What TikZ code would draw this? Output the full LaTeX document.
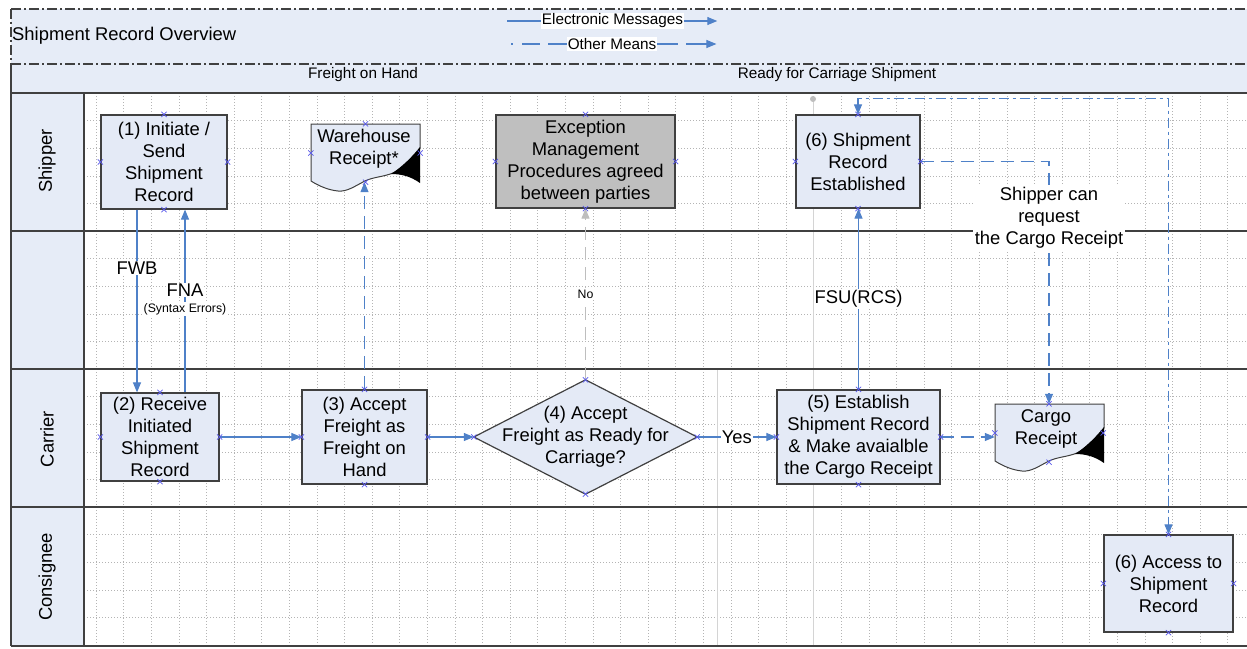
\documentclass[tikz,border=0pt]{standalone}
\usepackage{fontspec}
\setmainfont{Liberation Sans}
\usetikzlibrary{arrows.meta}
\definecolor{boxc}{RGB}{228,234,246}
\definecolor{hdrc}{RGB}{230,236,247}
\definecolor{bordc}{RGB}{64,64,64}
\definecolor{bluec}{RGB}{79,129,200}
\definecolor{cpc}{RGB}{90,90,235}
\definecolor{greybox}{RGB}{191,191,191}
\definecolor{gridc}{RGB}{180,180,180}
\definecolor{sepc}{RGB}{212,212,212}
\definecolor{noc}{RGB}{190,190,190}
\newcommand\bfnt{\fontsize{18.4}{22}\selectfont}
\newcommand\smfnt{\fontsize{15.3}{18}\selectfont}
\newcommand\tinyfnt{\fontsize{12.3}{14}\selectfont}
\newcommand\cpmk[1]{\draw[cpm] (#1) ++(-2.6,-2.6) -- ++(5.2,5.2) ++(-5.2,0) -- ++(5.2,-5.2);}
\newcommand\docshape[2]{%
  \begin{scope}[shift={(#1,#2)}]
    \filldraw[fill=boxc, draw=bordc, line width=1pt]
      (0,0) -- (109,0) -- (109,24)
      .. controls (100,35) and (92,44) .. (82,49)
      .. controls (72,53) and (62,53) .. (54,57)
      .. controls (44,62) and (36,68) .. (27,67)
      .. controls (17,66) and (8,62) .. (0,57) -- cycle;
    \fill[black] (80,50) .. controls (91,43) and (102,32) .. (109,23)
      -- (109,59) .. controls (99,52) and (90,50) .. (80,50) -- cycle;
  \end{scope}}
\begin{document}
\begin{tikzpicture}[x=1pt,y=-1pt,
  procbox/.style={draw=bordc, fill=boxc, line width=1.2pt, align=center, inner sep=0pt, font=\bfnt},
  lbl/.style={font=\bfnt, align=center, inner sep=1.5pt},
  leg/.style={font=\smfnt, fill=white, inner sep=1pt},
  frame/.style={draw=bordc, line width=1.2pt},
  dashdotline/.style={draw=bordc, line width=1.2pt, dash pattern=on 10pt off 3pt on 2pt off 3pt},
  gridl/.style={draw=gridc, line width=0.5pt, dash pattern=on 1pt off 2pt},
  sepline/.style={draw=sepc, line width=0.8pt},
  eline/.style={draw=bluec, line width=1.1pt},
  elec/.style={eline, -{Triangle[length=10pt,width=8pt]}},
  other/.style={elec, dash pattern=on 13pt off 7pt},
  nomeans/.style={draw=noc, line width=1pt, dash pattern=on 13pt off 7pt, -{Triangle[length=10pt,width=8pt]}},
  topr/.style={eline, dash pattern=on 10pt off 4pt on 3pt off 4pt, {Triangle[length=10pt,width=8pt]}-{Triangle[length=10pt,width=8pt]}},
  cpm/.style={draw=cpc, line width=0.7pt}
]
\useasboundingbox (0,0) rectangle (1247,648);
\fill[white] (0,0) rectangle (1247,648);

% header
\fill[hdrc] (11,9) rectangle (1247,93);
\fill[hdrc] (11,93) rectangle (84,646);
% grid
\foreach \k in {0,...,41} {\draw[gridl] ({96+\k*27.6},93) -- ({96+\k*27.6},646);}
\foreach \k in {1,...,19} {\draw[gridl] (84,{93+\k*27.6}) -- (1247,{93+\k*27.6});}
\draw[sepline] (717,369) -- (717,646);
\draw[sepline] (813,99) -- (813,646);
\fill[noc] (813,99) circle (3);

\draw[dashdotline] (11,9) -- (1247,9);
\draw[dashdotline] (11,9) -- (11,64);
\draw[dashdotline] (11,64) -- (1247,64);
\draw[frame] (11,64) -- (11,646);
\draw[frame] (11,93) -- (1247,93);
\draw[frame] (84,93) -- (84,646);
\draw[frame] (11,231) -- (1247,231);
\draw[frame] (11,369) -- (1247,369);
\draw[frame] (11,507) -- (1247,507);
\draw[frame] (11,646) -- (1247,646);

% header texts
\node[anchor=west, font=\bfnt, inner sep=0pt] (title) at (12,36) {Shipment Record Overview};
\node[font=\smfnt] (ph1) at (363,75) {Freight on Hand};
\node[font=\smfnt] (ph2) at (837,75) {Ready for Carriage Shipment};

% legend
\node[leg] (leg1) at (612.5,21) {Electronic Messages};
\draw[eline] (leg1.west) -- ++(-34,0);
\draw[elec] (leg1.east) -- ++(33,0);
\node[leg] (leg2) at (612,44) {Other Means};
\draw[eline, dash pattern=on 19pt off 8pt on 18pt off 9pt on 2pt] (leg2.west) -- ++(-57,0);
\draw[elec, dash pattern=on 21pt off 8pt on 40pt] (leg2.east) -- ++(59,0);

% lane labels
\node[rotate=90, font=\bfnt] (lshipper) at (47,161) {Shipper};
\node[rotate=90, font=\bfnt] (lcarrier) at (47,439) {Carrier};
\node[rotate=90, font=\bfnt] (lconsignee) at (47,577) {Consignee};

% nodes
\node[procbox, minimum width=126, minimum height=94] (n1) at (164,162) {(1) Initiate /\\Send\\Shipment\\Record};
\node[procbox, minimum width=118, minimum height=88] (n2) at (160,437) {(2) Receive\\Initiated\\Shipment\\Record};
\node[procbox, minimum width=125, minimum height=94] (n3) at (364.5,437) {(3) Accept\\Freight as\\Freight on\\Hand};
\node[procbox, fill=greybox, minimum width=179, minimum height=93] (ex) at (585.5,161.5) {Exception\\Management\\Procedures agreed\\between parties};
\node[procbox, minimum width=124, minimum height=93] (n6) at (858,161.5) {(6) Shipment\\Record\\Established};
\node[procbox, minimum width=163, minimum height=94] (n5) at (858.5,437) {(5) Establish\\Shipment Record\\\& Make avaialble\\the Cargo Receipt};
\node[procbox, minimum width=129, minimum height=97] (acc) at (1168.5,583.5) {(6) Access to\\Shipment\\Record};

% diamond
\node[minimum width=223, minimum height=114, inner sep=0pt] (d4) at (585.5,437) {};
\filldraw[fill=boxc, draw=bordc, line width=1.2pt] (d4.north) -- (d4.east) -- (d4.south) -- (d4.west) -- cycle;
\node[lbl] (d4t) at (585.5,437) {(4) Accept\\Freight as Ready for\\Carriage?};

% documents
\docshape{311}{124}
\node[minimum width=109, minimum height=58, inner sep=0pt] (wh) at (365.5,153) {};
\node[lbl] (wht) at (364,148.5) {Warehouse\\Receipt*};
\docshape{995}{404}
\node[minimum width=108, minimum height=58, inner sep=0pt] (cr) at (1049,433) {};
\node[lbl] (crt) at (1046,429) {Cargo\\Receipt};

% connectors
\coordinate (fwb) at (137,300);
\coordinate (fna) at (185,300);
\draw[elec] (n1.south -| fwb) -- (n2.north -| fwb);
\draw[elec] (n2.north -| fna) -- (n1.south -| fna);
\node[lbl, fill=white, inner sep=1pt] (fwbl) at (137,268) {FWB};
\node[lbl, fill=white, inner sep=1pt] (fnal) at (185,290) {FNA};
\node[font=\tinyfnt, fill=white, inner sep=1pt] (synl) at (185,309) {(Syntax Errors)};

\draw[elec] (n2.east) -- (n3.west);
\draw[elec] (n3.east) -- (d4.west);
\draw[elec] (d4.east) -- node[lbl, fill=white, inner sep=1pt] (yes) {Yes} (n5.west);
\draw[elec] (n5.north) -- node[lbl, fill=white, inner sep=1pt] (fsu) {FSU(RCS)} (n5.north |- n6.south);
\draw[other] (n3.north) -- (n3.north |- wh.south);
\draw[nomeans] (d4.north) -- node[font=\tinyfnt, fill=white, inner sep=1.5pt] (nol) {No} (d4.north |- ex.south);
\draw[other] (n5.east) -- (n5.east -| cr.west);
\draw[other] (n6.east) -| (cr.north);
\node[lbl, fill=white, inner sep=2pt] (req) at (1049,218) {Shipper can\\request\\the Cargo Receipt};
\draw[topr] (n6.north) -- ++(0,-16) -| (acc.north);

% connection points
\foreach \n in {n1,n2,n3,ex,n6,n5,acc,d4,wh,cr} {
  \cpmk{\n.north} \cpmk{\n.south} \cpmk{\n.east} \cpmk{\n.west}
}
\end{tikzpicture}
\end{document}
